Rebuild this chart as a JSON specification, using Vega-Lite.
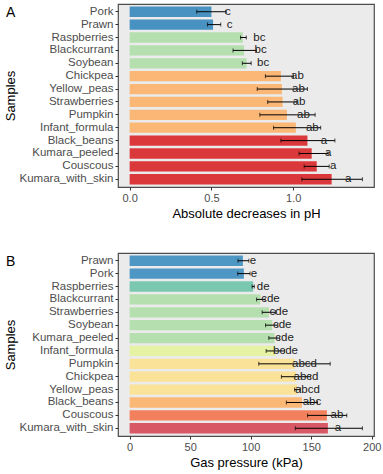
{
  "$schema": "https://vega.github.io/schema/vega-lite/v6.json",
  "background": "white",
  "padding": {"left": 3, "top": 3, "right": 4, "bottom": 2},
  "config": {
    "font": "Liberation Sans",
    "view": {"fill": "#EBEBEB", "stroke": "#4d4d4d", "strokeWidth": 1.2},
    "axis": {"domain": false, "grid": false, "tickColor": "#333333", "tickSize": 3, "labelColor": "#4D4D4D", "labelFontSize": 11.5, "titleFontSize": 13, "titleFontWeight": "normal", "titleColor": "#000000", "labelPadding": 2},
    "axisX": {"labelFontSize": 11, "labelOverlap": false},
    "concat": {"spacing": 31},
    "title": {"fontSize": 14, "fontWeight": "normal", "anchor": "start", "frame": "bounds", "color": "#000000", "dx": 2}
  },
  "datasets": {
    "phA": [
      {"sample": "Pork", "mean": 0.50, "lo": 0.41, "hi": 0.587, "grp": "c"},
      {"sample": "Prawn", "mean": 0.51, "lo": 0.476, "hi": 0.557, "grp": "c"},
      {"sample": "Raspberries", "mean": 0.692, "lo": 0.678, "hi": 0.713, "grp": "bc"},
      {"sample": "Blackcurrant", "mean": 0.70, "lo": 0.632, "hi": 0.775, "grp": "bc"},
      {"sample": "Soybean", "mean": 0.715, "lo": 0.689, "hi": 0.743, "grp": "bc"},
      {"sample": "Chickpea", "mean": 0.925, "lo": 0.83, "hi": 1.002, "grp": "ab"},
      {"sample": "Yellow_peas", "mean": 0.931, "lo": 0.78, "hi": 1.087, "grp": "ab"},
      {"sample": "Strawberries", "mean": 0.935, "lo": 0.844, "hi": 1.022, "grp": "ab"},
      {"sample": "Pumpkin", "mean": 0.962, "lo": 0.796, "hi": 1.134, "grp": "ab"},
      {"sample": "Infant_formula", "mean": 1.016, "lo": 0.88, "hi": 1.168, "grp": "ab"},
      {"sample": "Black_beans", "mean": 1.087, "lo": 0.925, "hi": 1.255, "grp": "a"},
      {"sample": "Kumara_peeled", "mean": 1.113, "lo": 1.036, "hi": 1.214, "grp": "a"},
      {"sample": "Couscous", "mean": 1.144, "lo": 1.067, "hi": 1.22, "grp": "a"},
      {"sample": "Kumara_with_skin", "mean": 1.235, "lo": 1.053, "hi": 1.423, "grp": "a"}
    ],
    "gasB": [
      {"sample": "Prawn", "mean": 93.6, "lo": 89.5, "hi": 98.5, "grp": "e"},
      {"sample": "Pork", "mean": 94.4, "lo": 89.3, "hi": 99.5, "grp": "e"},
      {"sample": "Raspberries", "mean": 102.1, "lo": 101.2, "hi": 103.0, "grp": "de"},
      {"sample": "Blackcurrant", "mean": 108.1, "lo": 104.9, "hi": 112.0, "grp": "cde"},
      {"sample": "Strawberries", "mean": 115.0, "lo": 109.5, "hi": 120.5, "grp": "cde"},
      {"sample": "Soybean", "mean": 117.8, "lo": 112.3, "hi": 122.5, "grp": "cde"},
      {"sample": "Kumara_peeled", "mean": 119.7, "lo": 115.0, "hi": 124.0, "grp": "cde"},
      {"sample": "Infant_formula", "mean": 120.5, "lo": 112.8, "hi": 128.0, "grp": "bcde"},
      {"sample": "Pumpkin", "mean": 136.2, "lo": 106.7, "hi": 165.7, "grp": "abcd"},
      {"sample": "Chickpea", "mean": 137.5, "lo": 125.4, "hi": 149.6, "grp": "abcd"},
      {"sample": "Yellow_peas", "mean": 138.6, "lo": 136.3, "hi": 141.0, "grp": "abcd"},
      {"sample": "Black_beans", "mean": 142.4, "lo": 129.5, "hi": 155.3, "grp": "abc"},
      {"sample": "Couscous", "mean": 163.0, "lo": 147.0, "hi": 179.4, "grp": "ab"},
      {"sample": "Kumara_with_skin", "mean": 163.8, "lo": 136.9, "hi": 192.3, "grp": "a"}
    ]
  },
  "resolve": {"scale": {"color": "independent", "x": "independent", "y": "independent"}},
  "vconcat": [
    {
      "title": {"text": "A", "dy": 20},
      "width": 256,
      "height": 183,
      "data": {"name": "phA"},
      "encoding": {
        "y": {"field": "sample", "type": "nominal", "title": "Samples",
          "sort": ["Pork", "Prawn", "Raspberries", "Blackcurrant", "Soybean", "Chickpea", "Yellow_peas", "Strawberries", "Pumpkin", "Infant_formula", "Black_beans", "Kumara_peeled", "Couscous", "Kumara_with_skin"],
          "scale": {"paddingInner": 0.2, "paddingOuter": 0.2},
          "axis": {"titlePadding": 2}}
      },
      "layer": [
        {"mark": {"type": "bar", "opacity": 0.85},
          "encoding": {
            "x": {"field": "mean", "type": "quantitative", "title": "Absolute decreases in pH",
              "scale": {"domain": [-0.0712, 1.494], "nice": false, "zero": false},
              "axis": {"values": [0, 0.5, 1.0], "format": ".1f", "titlePadding": 4, "labelOverlap": false}},
            "color": {"field": "grp", "type": "nominal", "legend": null,
              "scale": {"domain": ["a", "ab", "bc", "c"], "range": ["#D7191C", "#FDAE61", "#ABDDA4", "#2B83BA"]}}
          }},
        {"mark": {"type": "rule", "color": "#000000", "strokeWidth": 1},
          "encoding": {"x": {"field": "lo", "type": "quantitative"}, "x2": {"field": "hi"}}},
        {"mark": {"type": "tick", "orient": "vertical", "color": "#000000", "size": 4, "thickness": 1},
          "encoding": {"x": {"field": "lo", "type": "quantitative"}}},
        {"mark": {"type": "tick", "orient": "vertical", "color": "#000000", "size": 4, "thickness": 1},
          "encoding": {"x": {"field": "hi", "type": "quantitative"}}},
        {"mark": {"type": "text", "dx": 16.5, "fontSize": 11.5, "color": "#222222", "align": "center", "baseline": "middle"},
          "encoding": {"x": {"field": "mean", "type": "quantitative"}, "text": {"field": "grp"}}}
      ]
    },
    {
      "title": {"text": "B", "dy": 20},
      "width": 256,
      "height": 183,
      "data": {"name": "gasB"},
      "encoding": {
        "y": {"field": "sample", "type": "nominal", "title": "Samples",
          "sort": ["Prawn", "Pork", "Raspberries", "Blackcurrant", "Strawberries", "Soybean", "Kumara_peeled", "Infant_formula", "Pumpkin", "Chickpea", "Yellow_peas", "Black_beans", "Couscous", "Kumara_with_skin"],
          "scale": {"paddingInner": 0.2, "paddingOuter": 0.2},
          "axis": {"titlePadding": 2}}
      },
      "layer": [
        {"mark": {"type": "bar", "opacity": 0.85},
          "encoding": {
            "x": {"field": "mean", "type": "quantitative", "title": "Gas pressure (kPa)",
              "scale": {"domain": [-9.6, 201.9], "nice": false, "zero": false},
              "axis": {"values": [0, 50, 100, 150, 200], "titlePadding": 4, "labelOverlap": false}},
            "color": {"field": "grp", "type": "nominal", "legend": null,
              "scale": {"domain": ["a", "ab", "abc", "abcd", "bcde", "cde", "de", "e"], "range": ["#D53E4F", "#F46D43", "#FDAE61", "#FEE08B", "#E6F598", "#ABDDA4", "#66C2A5", "#3288BD"]}}
          }},
        {"mark": {"type": "rule", "color": "#000000", "strokeWidth": 1},
          "encoding": {"x": {"field": "lo", "type": "quantitative"}, "x2": {"field": "hi"}}},
        {"mark": {"type": "tick", "orient": "vertical", "color": "#000000", "size": 4, "thickness": 1},
          "encoding": {"x": {"field": "lo", "type": "quantitative"}}},
        {"mark": {"type": "tick", "orient": "vertical", "color": "#000000", "size": 4, "thickness": 1},
          "encoding": {"x": {"field": "hi", "type": "quantitative"}}},
        {"mark": {"type": "text", "dx": 10, "fontSize": 11.5, "color": "#222222", "align": "center", "baseline": "middle"},
          "encoding": {"x": {"field": "mean", "type": "quantitative"}, "text": {"field": "grp"}}}
      ]
    }
  ]
}
